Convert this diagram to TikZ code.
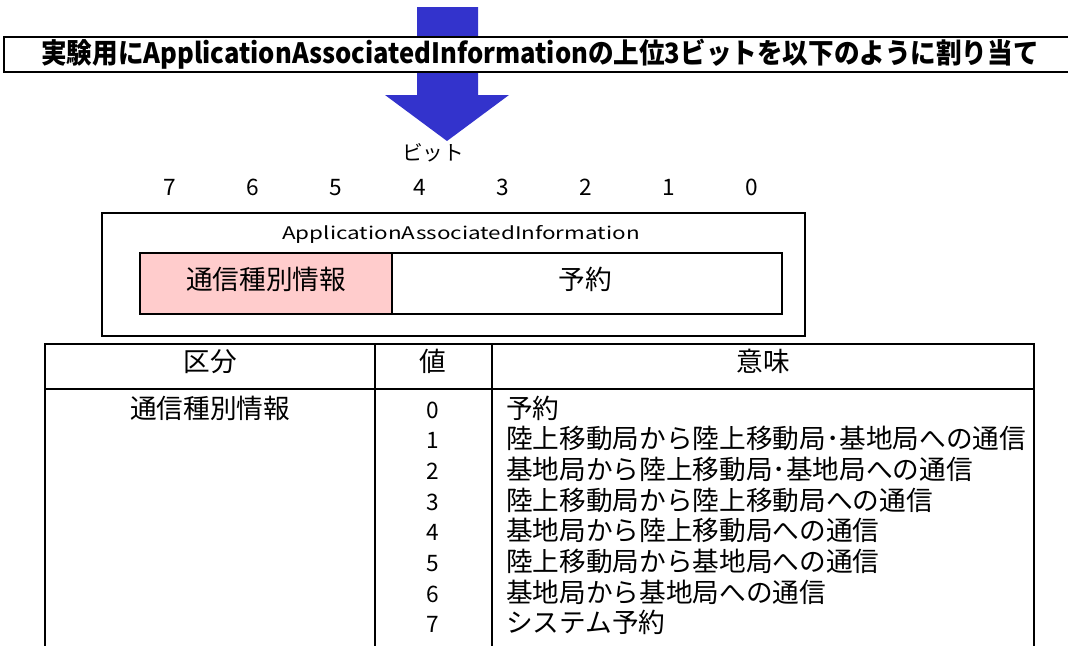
\documentclass[tikz,border=0pt]{standalone}
\usepackage{fontspec}
\usepackage{graphicx}
\setmainfont{Noto Sans CJK JP}
\definecolor{arrowblue}{HTML}{3333CC}
\definecolor{fieldpink}{HTML}{FFCCCC}

\begin{document}
\begin{tikzpicture}[x=0.75pt,y=-0.75pt,
  txt/.style={inner sep=0pt,text height=0.88em,text depth=0.12em},
  big/.style={txt,font=\fontsize{20}{24}\selectfont},
  num/.style={txt,font=\fontsize{17}{20}\selectfont},
  frame/.style={draw=black,line width=1pt}]
  \useasboundingbox (0,0) rectangle (1068,646);
  \clip (0,0) rectangle (1068,646);

  % big blue arrow, partly hidden by the title bar
  \fill[arrowblue] (417,7) -- (478,7) -- (478,95) -- (509,95) -- (447,141)
    -- (385,95) -- (417,95) -- cycle;

  % title bar
  \draw[frame,fill=white] (4,37) rectangle (1090,72);
  \node[txt,font=\bfseries\fontsize{21}{25}\selectfont] (title) at (540,58)
    {\resizebox{748pt}{\height}{実験用にApplicationAssociatedInformationの上位3ビットを以下のように割り当て}};

  % bit numbers
  \node[txt,font=\fontsize{15.5}{18}\selectfont] (bitlabel) at (433,155) {ビット};
  \foreach \b [count=\i from 0] in {7,6,5,4,3,2,1,0}
    \node[num] (bit\b) at ({170+83.14*\i},190) {\b};

  % the field and its two parts
  \draw[frame] (102,213) rectangle (805,336);
  \node[txt,font=\fontsize{13}{15}\selectfont] (aai) at (461,234)
    {\resizebox{268pt}{\height}{ApplicationAssociatedInformation}};
  \draw[frame,fill=fieldpink] (140,253) rectangle (392,314);
  \draw[frame] (392,253) rectangle (782,314);
  \node[big] (kind) at (266,284) {通信種別情報};
  \node[big] (resv) at (585,284) {予約};

  % table
  \draw[frame] (45,700) -- (45,344) -- (1034,344) -- (1034,700);
  \draw[frame] (45,389) -- (1034,389);
  \draw[frame] (375,344) -- (375,700);
  \draw[frame] (492,344) -- (492,700);
  \node[big] (hkubun) at (210,366) {区分};
  \node[big] (hval) at (433,366) {値};
  \node[big] (hmean) at (763,366) {意味};
  \node[big] (kubun) at (210,413) {通信種別情報};
  \foreach \v/\m [count=\k from 0] in {0/予約,
      1/陸上移動局から陸上移動局･基地局への通信,
      2/基地局から陸上移動局･基地局への通信,
      3/陸上移動局から陸上移動局への通信,
      4/基地局から陸上移動局への通信,
      5/陸上移動局から基地局への通信,
      6/基地局から基地局への通信,
      7/システム予約} {
    \node[num] (val\v) at (433,{413+30.7*\k}) {\v};
    \node[big,anchor=west] (mean\v) at (506,{413+30.7*\k}) {\m};
  }
\end{tikzpicture}
\end{document}
